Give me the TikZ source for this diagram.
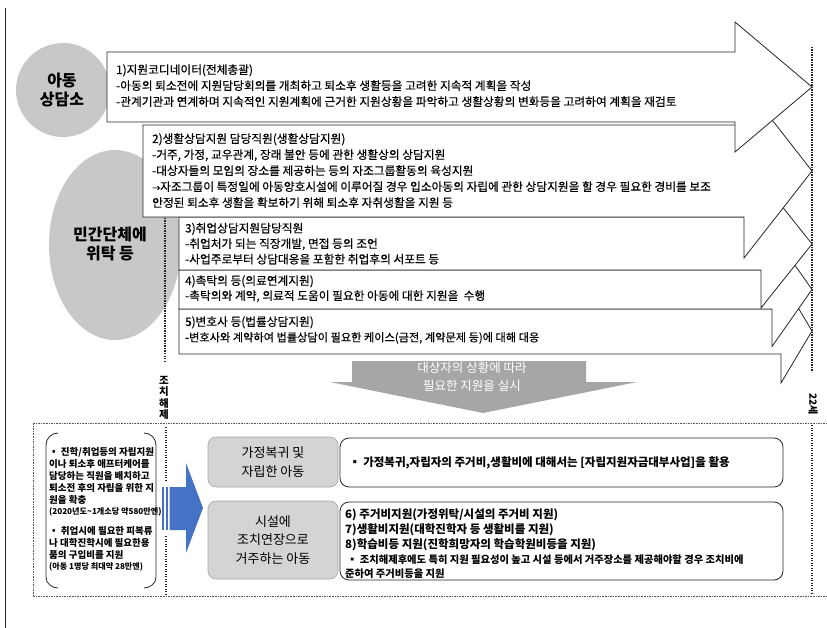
\documentclass[tikz,border=0pt]{standalone}
\usepackage{fontspec}
\setmainfont{Noto Sans CJK KR}
\newfontfamily\krmed{Noto Sans CJK KR}[FakeBold=0.35]
\definecolor{circgray}{HTML}{C8C8C8}
\definecolor{arrgray}{HTML}{A6A6A6}
\definecolor{boxgray}{HTML}{D4D4D4}
\definecolor{blueA}{HTML}{4472C4}
\definecolor{linec}{HTML}{262626}
\begin{document}
\begin{tikzpicture}[x=1pt,y=-1pt,
  every node/.style={inner sep=0pt},
  ln/.style={anchor=west,text height=0.8em,text depth=0.2em,font=\krmed\fontsize{11.7}{13}\selectfont},
  lnb/.style={anchor=west,text height=0.8em,text depth=0.2em,font=\fontsize{9.5}{11}\bfseries\selectfont},
  lns/.style={anchor=west,text height=0.8em,text depth=0.2em,font=\fontsize{8.1}{9}\bfseries\selectfont},
  lnr/.style={anchor=west,text height=0.8em,text depth=0.2em,font=\fontsize{11.5}{12}\bfseries\selectfont},
  arrowbox/.style={draw=linec,line width=0.8pt,fill=white,line join=miter},
  vdots/.style={line width=1.3pt,dash pattern=on 1.3pt off 1.2pt,linec},
  hdash/.style={line width=0.6pt,dash pattern=on 1.6pt off 1pt,black!65},
  graybox/.style={draw=black!35,line width=0.6pt,fill=boxgray,rounded corners=8pt},
  whitebox/.style={draw=linec,line width=0.8pt,fill=white,rounded corners=9pt},
  bigtxt/.style={align=center,font=\fontsize{16}{19}\bfseries\selectfont},
  midtxt/.style={align=center,font=\fontsize{13}{18.5}\selectfont},
]
\useasboundingbox (0,0) rectangle (827,628);
\fill[white] (0,0) rectangle (827,628);
% frame line on the left
\draw[linec,line width=0.7pt] (5,8) -- (5,628);

% circles
\fill[circgray] (63,90) circle (47);
\fill[circgray] (115,245) ellipse (66 and 95);
\node[bigtxt] (c1) at (62,90) {아동\\상담소};
\node[bigtxt] (c2) at (110,244) {민간단체에\\위탁 등};

% dotted vertical lines
\draw[vdots] (165,218) -- (165,362);
\draw[vdots] (812,47) -- (812,372);

% arrows (lower first)
\draw[arrowbox] (179,309) -- (781,309) -- (781,279) -- (812,331) -- (781,383) -- (781,354) -- (179,354) -- cycle;
\draw[arrowbox] (179,270) -- (772,270) -- (772,232.5) -- (812,289.5) -- (772,346.5) -- (772,309) -- (179,309) -- cycle;
\draw[arrowbox] (179,217) -- (761,217) -- (761,180) -- (812,244) -- (761,308) -- (761,270) -- (179,270) -- cycle;
\draw[arrowbox] (143,125) -- (744,125) -- (744,84) -- (812,171) -- (744,258) -- (744,217) -- (143,217) -- cycle;
\draw[arrowbox] (107,52) -- (735,52) -- (735,22) -- (812,87) -- (735,152) -- (735,122) -- (107,122) -- cycle;

% box 1
\node[ln] (t11) at (116,71) {1)지원코디네이터(전체총괄)};
\node[ln] (t12) at (116,87) {-아동의 퇴소전에 지원담당회의를 개최하고 퇴소후 생활등을 고려한 지속적 계획을 작성};
\node[ln] (t13) at (116,103) {-관계기관과 연계하며 지속적인 지원계획에 근거한 지원상황을 파악하고 생활상황의 변화등을 고려하여 계획을 재검토};
% box 2
\node[ln] (t21) at (152,140) {2)생활상담지원 담당직원(생활상담지원)};
\node[ln] (t22) at (152,156) {-거주, 가정, 교우관계, 장래 불안 등에 관한 생활상의 상담지원};
\node[ln] (t23) at (152,172) {-대상자들의 모임의 장소를 제공하는 등의 자조그룹활동의 육성지원};
\node[ln] (t24) at (152,188) {{\fontsize{8}{8}\selectfont→}자조그룹이 특정일에 아동양호시설에 이루어질 경우 입소아동의 자립에 관한 상담지원을 할 경우 필요한 경비를 보조};
\node[ln] (t25) at (152,204) {안정된 퇴소후 생활을 확보하기 위해 퇴소후 자취생활을 지원 등};
% box 3
\node[ln] (t31) at (185,229.5) {3)취업상담지원담당직원};
\node[ln] (t32) at (185,245) {-취업처가 되는 직장개발, 면접 등의 조언};
\node[ln] (t33) at (185,260.5) {-사업주로부터 상담대응을 포함한 취업후의 서포트 등};
% box 4
\node[ln] (t41) at (185,282) {4)촉탁의 등(의료연계지원)};
\node[ln] (t42) at (185,297) {-촉탁의와 계약, 의료적 도움이 필요한 아동에 대한 지원을~~수행};
% box 5
\node[ln] (t51) at (185,323) {5)변호사 등(법률상담지원)};
\node[ln,font=\krmed\fontsize{11.2}{13}\selectfont] (t52) at (185,338.5) {-변호사와 계약하여 법률상담이 필요한 케이스(금전, 계약문제 등)에 대해 대응};

% gray down arrow
\fill[arrgray] (352,361) -- (586,361) -- (586,382) -- (637,382) -- (483,413) -- (330,382) -- (352,382) -- cycle;
\node[align=center,text=white,font=\fontsize{12.5}{18}\selectfont] (ga) at (472,377) {대상자의 상황에 따라\\필요한 지원을 실시};

% vertical texts
\node[align=center,font=\fontsize{10.5}{11.5}\bfseries\selectfont] (jh) at (164,398) {조\\치\\해\\제};
\node[rotate=-90,font=\fontsize{10}{12}\bfseries\selectfont] (age) at (813,404) {22세};

% lower dashed frame
\draw[hdash] (33,423) -- (827,423);
\draw[hdash] (33,596) -- (827,596);
\draw[hdash] (33,423) -- (33,596);
\draw[vdots,line width=1.1pt] (166,427) -- (166,480);
\draw[vdots,line width=1.1pt] (166,536) -- (166,594);
\draw[vdots,line width=1.1pt] (812,425) -- (812,594);

% brackets
\draw[linec,line width=0.8pt] (58,433) to[out=180,in=90] (46,445) -- (46,577) to[out=-90,in=180] (58,588);
\draw[linec,line width=0.8pt] (144,433) to[out=0,in=90] (156,445) -- (156,577) to[out=-90,in=0] (144,588);

% left texts
\node[lnb] (l1) at (49,452) {▪ 진학/취업등의 자립지원};
\node[lnb] (l2) at (49,464) {이나 퇴소후 애프터케어를};
\node[lnb] (l3) at (49,476) {담당하는 직원을 배치하고};
\node[lnb] (l4) at (49,488) {퇴소전 후의 자립을 위한 지};
\node[lnb] (l5) at (49,500) {원을 확충};
\node[lns] (l6) at (49,511.5) {(2020년도\textasciitilde1개소당 약580만엔)};
\node[lnb] (l7) at (49,531) {▪ 취업시에 필요한 피복류};
\node[lnb] (l8) at (49,543) {나 대학진학시에 필요한용};
\node[lnb] (l9) at (49,555) {품의 구입비를 지원};
\node[lns] (l10) at (49,566.5) {(아동 1명당 최대약 28만엔)};

% blue striped arrow
\fill[blueA] (162,487) rectangle (164,530);
\fill[blueA] (165.5,487) rectangle (168,530);
\fill[blueA] (169.5,487) -- (186,487) -- (186,463) -- (203,508) -- (186,553) -- (186,530) -- (169.5,530) -- cycle;

% gray boxes
\draw[graybox] (208,437) rectangle (338,487);
\node[midtxt] (ga1) at (273,462) {가정복귀 및\\자립한 아동};
\draw[graybox] (208,501) rectangle (338,579);
\node[midtxt] (gb1) at (273,540) {시설에\\조치연장으로\\거주하는 아동};

% white boxes
\draw[whitebox] (340,438) rectangle (783,487);
\node[lnr] (w1) at (349,463) {▪ 가정복귀,자립자의 주거비,생활비에 대해서는 [자립지원자금대부사업]을 활용};
\draw[whitebox] (340,502) rectangle (783,580);
\node[lnr] (w2) at (345,515) {6) 주거비지원(가정위탁/시설의 주거비 지원)};
\node[lnr] (w3) at (345,530) {7)생활비지원(대학진학자 등 생활비를 지원)};
\node[lnr] (w4) at (345,545) {8)학습비등 지원(진학희망자의 학습학원비등을 지원)};
\node[lnr,font=\fontsize{10.3}{11}\bfseries\selectfont] (w5) at (347,560) {▪ 조치해제후에도 특히 지원 필요성이 높고 시설 등에서 거주장소를 제공해야할 경우 조치비에};
\node[lnr,font=\fontsize{10.3}{11}\bfseries\selectfont] (w6) at (345,574) {준하여 주거비등을 지원};
\end{tikzpicture}
\end{document}
